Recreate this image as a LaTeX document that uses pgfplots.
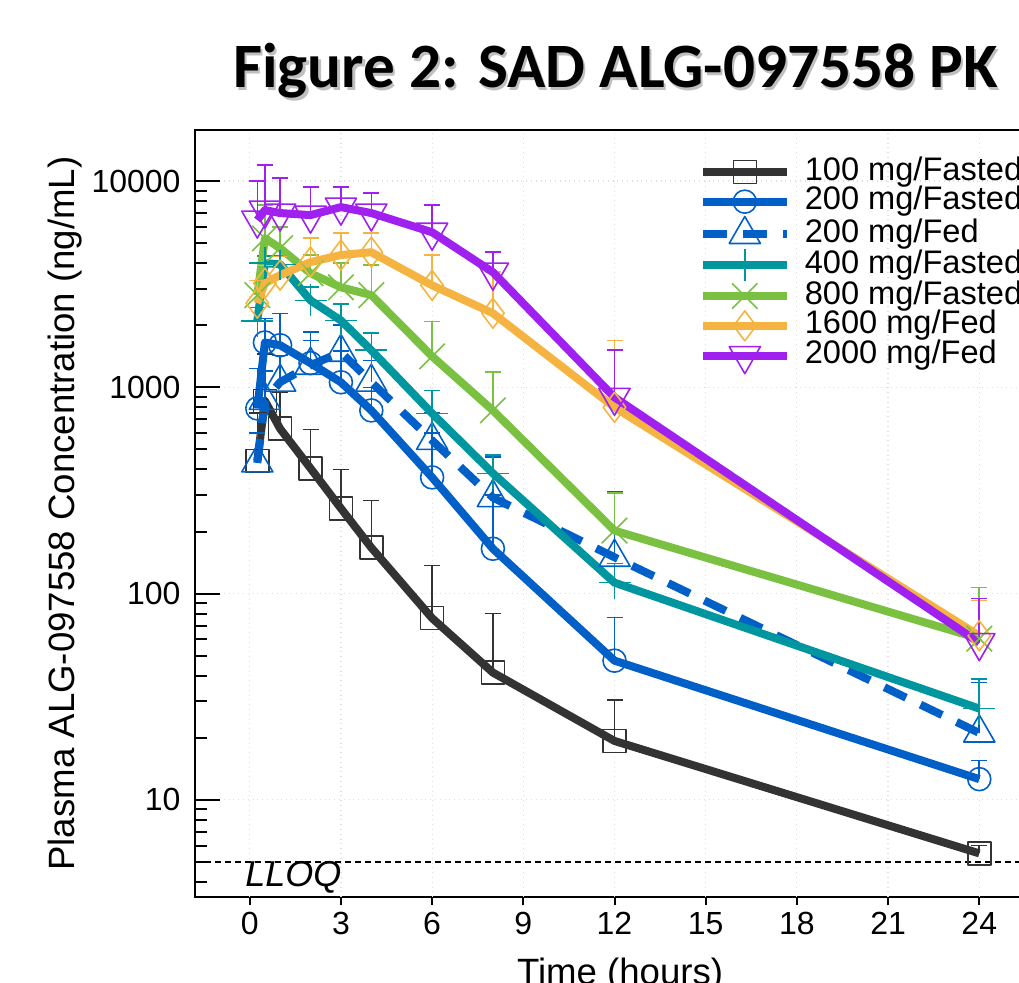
\documentclass[border=0pt]{standalone}
\usepackage{fontspec}
\setmainfont{Liberation Sans}
\newfontfamily\titlefont{Carlito}
\usepackage{pgfplots}
\pgfplotsset{compat=1.18}
\usepackage{pgfplotstable}

\definecolor{cgrey}{RGB}{51,51,51}
\definecolor{cblue}{RGB}{0,96,200}
\definecolor{cteal}{RGB}{0,150,160}
\definecolor{cgreen}{RGB}{122,193,66}
\definecolor{corange}{RGB}{245,180,65}
\definecolor{cpurple}{RGB}{160,32,240}

% t (h), mean conc (ng/mL), upper SD
\pgfplotstableread{
t     y     e
0.25  440   310
0.5   860   590
1     630   316
2     405   221
3     259   141
4     167   116
6     76    61
8     41.4  38.6
12    19.3  11.2
24    5.5   0.5
}\dA
\pgfplotstableread{
t     y     e
0.25  790   446
0.5   1650  510
1     1600  685
2     1310  540
3     1058  442
4     773   227
6     366   234
8     165   135
12    47.3  29.4
24    12.6  2.9
}\dB
\pgfplotstableread{
t     y     e
0.25  430   170
0.5   865   335
1     1060  370
2     1280  410
3     1480  520
4     1060  290
6     553   197
8     292   168
12    150   163
24    21.1  15.9
}\dC
\pgfplotstableread{
t     y     e
0.25  2100  340
0.5   4000  330
1     3950  380
2     2640  416
3     2110  420
4     1513  317
6     748   218
8     383   87
12    113   27
24    27.7  10.9
}\dD
\pgfplotstableread{
t     y     e
0.25  2800  500
0.5   5280  2360
1     4730  1250
2     3573  807
3     3056  944
4     2800  1110
6     1414  676
8     773   411
12    202   105
24    60.5  46.5
}\dE
\pgfplotstableread{
t     y     e
0.25  2560  740
0.5   3200  700
1     3500  800
2     4047  1243
3     4380  1210
4     4520  1070
6     3124  1256
8     2287  1330
12    800   890
24    62.5  30
}\dF
\pgfplotstableread{
t     y     e
0.25  6470  3530
0.5   7230  4730
1     7000  3330
2     6840  2510
3     7480  1870
4     7000  1740
6     5650  2000
8     3617  903
12    894   619
24    57.8  36.9
}\dG

\pgfplotsset{
  pk/.style={line width=4pt, line join=round,
    mark options={line width=0.8pt, solid, fill=none},
    error bars/y dir=plus, error bars/y explicit,
    error bars/error bar style={line width=0.8pt, solid},
    error bars/error mark options={rotate=90, mark size=4pt, line width=0.8pt}},
}

\begin{document}
\begin{tikzpicture}
\useasboundingbox (0,0) rectangle (509.5pt,491pt);
\clip (0,0) rectangle (509.5pt,491pt);
\begin{axis}[
  at={(97.5pt,42.5pt)}, anchor=south west,
  scale only axis, width=419.5pt, height=383.5pt,
  ymode=log, xmin=-1.8, xmax=25.8, ymin=3.38, ymax=17690,
  xtick=\empty,
  extra x ticks={0,3,6,9,12,15,18,21,24},
  extra x tick labels={0,3,6,9,12,15,18,21,24},
  extra x tick style={major tick length=4pt, xtick align=outside, grid=major},
  ytick={10,100,1000,10000},
  yticklabels={10,100,1000,10000},
  minor ytick={4,5,6,7,8,9,20,30,40,50,60,70,80,90,200,300,400,500,600,700,800,900,2000,3000,4000,5000,6000,7000,8000,9000},
  xtick pos=bottom, ytick pos=left,
  ytick align=inside,
  major tick length=12.5pt, minor tick length=6pt,
  tick style={black, line width=1pt},
  axis line style={line width=1.2pt},
  ymajorgrids, grid style={gray!25, dotted, line width=0.6pt},
  ticklabel style={font=\fontsize{16}{19}\selectfont},
  yticklabel style={xshift=-3.7pt},
  xlabel={Time (hours)},
  ylabel={Plasma ALG-097558 Concentration (ng/mL)},
  label style={font=\fontsize{18.3}{21}\selectfont},
  xlabel style={at={(axis description cs:0.5066,-0.0795)}, anchor=north, inner sep=0pt},
  ylabel style={at={(axis description cs:-0.155,0.5)}, anchor=center},
  legend cell align=left,
  legend image code/.code={\draw[mark repeat=2,mark phase=2,#1] plot coordinates {(0pt,0pt) (21pt,0pt) (42pt,0pt)};},
  legend style={at={(axis description cs:0.6,0.965)}, anchor=north west,
    draw=none, fill=none, inner sep=0pt, column sep=7pt, row sep=0pt,
    font=\fontsize{16.3}{19}\selectfont,
    nodes={inner sep=0pt, text height=11.4pt, text depth=3.4pt}},
]
\addplot[black, dashed, line width=0.8pt, dash pattern=on 3pt off 2pt, forget plot] coordinates {(-1.8,5) (25.8,5)};

\addplot[pk, cgrey, mark=square, mark size=5.75pt] table[x=t, y=y, y error=e] {\dA};
\addlegendentry{100 mg/Fasted}
\addplot[pk, cblue, mark=o, mark size=5.75pt] table[x=t, y=y, y error=e] {\dB};
\addlegendentry{200 mg/Fasted}
\addplot[pk, cblue, dash pattern=on 12pt off 8pt, mark=triangle, mark size=9pt] table[x=t, y=y, y error=e] {\dC};
\addlegendentry{200 mg/Fed}
\addplot[pk, cteal, mark=+, mark size=8pt] table[x=t, y=y, y error=e] {\dD};
\addlegendentry{400 mg/Fasted}
\addplot[pk, cgreen, mark=x, mark size=9pt] table[x=t, y=y, y error=e] {\dE};
\addlegendentry{800 mg/Fasted}
\addplot[pk, corange, mark=diamond, mark size=7.5pt] table[x=t, y=y, y error=e] {\dF};
\addlegendentry{1600 mg/Fed}
\addplot[pk, cpurple, mark=triangle, mark size=9pt, mark options={line width=0.8pt, solid, fill=none, rotate=180}] table[x=t, y=y, y error=e] {\dG};
\addlegendentry{2000 mg/Fed}

\node[anchor=base west, inner sep=0pt, font=\itshape\fontsize{18}{21}\selectfont] at (axis cs:-0.16,3.78) {LLOQ};
\end{axis}
\node[anchor=base west, inner sep=0pt, text=gray!50, font=\titlefont\bfseries\fontsize{31.6}{36}\selectfont] at (117.6pt,445.9pt) {Figure 2: SAD ALG-097558 PK};
\node[anchor=base west, inner sep=0pt, font=\titlefont\bfseries\fontsize{31.6}{36}\selectfont] at (116.5pt,447pt) {Figure 2: SAD ALG-097558 PK};
\end{tikzpicture}
\end{document}
